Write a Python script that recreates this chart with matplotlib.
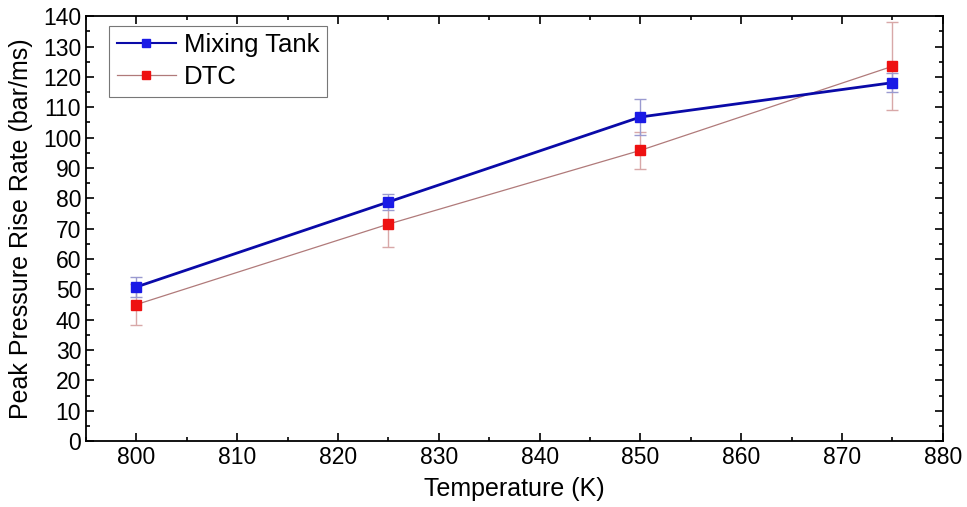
import numpy as np
import matplotlib.pyplot as plt
from matplotlib.ticker import MultipleLocator
from matplotlib.lines import Line2D

plt.rcParams['font.family'] = ['Liberation Sans', 'DejaVu Sans']

temps = [800, 825, 850, 875]
mix_rate = [50.8, 78.8, 106.8, 118.1]
mix_err = [3.4, 2.6, 5.8, 3.1]
dtc_rate = [45.0, 71.5, 95.8, 123.5]
dtc_err = [6.8, 7.5, 6.2, 14.5]

mix_line = '#0a0aa8'
mix_mark = '#1a1ae6'
dtc_line = '#b07a7a'
dtc_mark = '#ee1111'

fig = plt.figure(figsize=(9.67, 5.07), dpi=100)
ax = fig.add_axes([0.089, 0.130, 0.886, 0.838])

ax.errorbar(temps, mix_rate, yerr=mix_err, color=mix_line, lw=2.0,
            marker='s', ms=7, mfc=mix_mark, mec=mix_mark,
            ecolor='#9a9ad0', elinewidth=1.0, capsize=4, capthick=1.0,
            zorder=3)
ax.errorbar(temps, dtc_rate, yerr=dtc_err, color=dtc_line, lw=0.9,
            marker='s', ms=7, mfc=dtc_mark, mec=dtc_mark,
            ecolor='#d8a8a8', elinewidth=1.0, capsize=4, capthick=1.0,
            zorder=2)

ax.set_xlim(795, 880)
ax.set_ylim(0, 140)
ax.xaxis.set_major_locator(MultipleLocator(10))
ax.xaxis.set_minor_locator(MultipleLocator(5))
ax.yaxis.set_major_locator(MultipleLocator(10))
ax.yaxis.set_minor_locator(MultipleLocator(5))
ax.tick_params(which='both', direction='in', top=True, right=True,
               labelsize=16.5, width=1.2)
ax.tick_params(which='major', length=6)
ax.tick_params(which='minor', length=3)
for s in ax.spines.values():
    s.set_linewidth(1.3)

ax.set_xlabel('Temperature (K)', fontsize=18, labelpad=6)
ax.set_ylabel('Peak Pressure Rise Rate (bar/ms)', fontsize=18, labelpad=7)

handles = [
    Line2D([], [], color=mix_line, lw=1.5, marker='s', ms=6,
           mfc=mix_mark, mec=mix_mark),
    Line2D([], [], color=dtc_line, lw=0.9, marker='s', ms=6,
           mfc=dtc_mark, mec=dtc_mark),
]
leg = ax.legend(handles, ['Mixing Tank', 'DTC'], loc='upper left',
                bbox_to_anchor=(0.027, 0.978),
                fontsize=18.5, frameon=True, fancybox=False,
                edgecolor='#555555', borderpad=0.3, handlelength=2.3,
                handletextpad=0.3, labelspacing=0.3, borderaxespad=0.0)
leg.get_frame().set_linewidth(0.8)

fig.savefig('out.png', dpi=100)
